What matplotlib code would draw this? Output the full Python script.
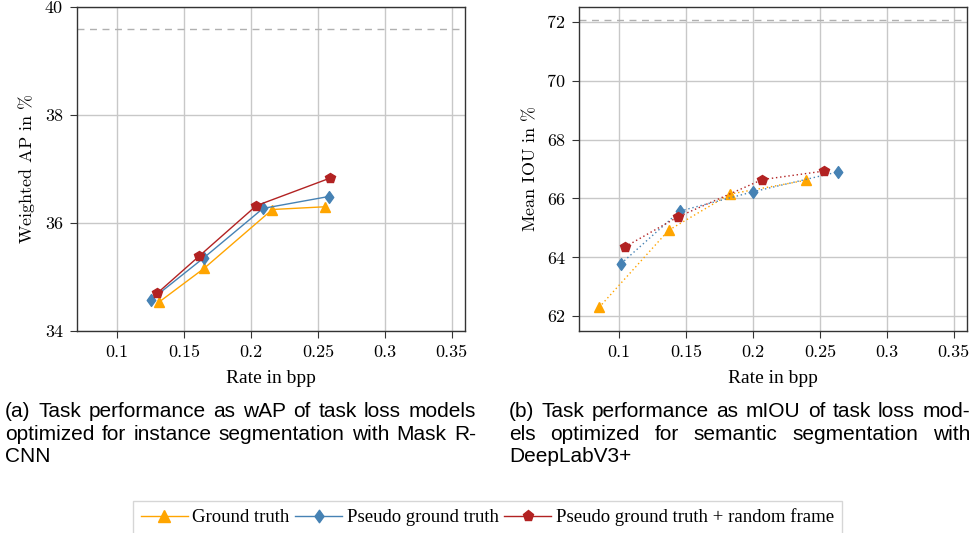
import matplotlib.pyplot as plt
from matplotlib.lines import Line2D
from matplotlib.path import Path

W, H = 979, 533

# (a) instance segmentation, weighted AP
rate_gt_a = [0.131, 0.165, 0.216, 0.255]
wap_gt = [34.53, 35.16, 36.25, 36.30]
rate_pgt_a = [0.125, 0.165, 0.209, 0.258]
wap_pgt = [34.57, 35.36, 36.27, 36.49]
rate_rf_a = [0.130, 0.161, 0.204, 0.259]
wap_rf = [34.70, 35.38, 36.32, 36.83]
wap_ref = 39.6

# (b) semantic segmentation, mean IOU
rate_gt_b = [0.085, 0.137, 0.183, 0.240]
miou_gt = [62.3, 64.92, 66.15, 66.62]
rate_pgt_b = [0.1015, 0.1453, 0.2004, 0.2634]
miou_pgt = [63.79, 65.57, 66.23, 66.90]
rate_rf_b = [0.1045, 0.1438, 0.2069, 0.2532]
miou_rf = [64.36, 65.37, 66.64, 66.93]
miou_ref = 72.05

xticks = [0.1, 0.15, 0.2, 0.25, 0.3, 0.35]
xticklabels = ["0.1", "0.15", "0.2", "0.25", "0.3", "0.35"]

labels = ["Ground truth", "Pseudo ground truth", "Pseudo ground truth + random frame"]
colors = ["#FFA500", "#4682B4", "#B22222"]
diamond = Path([(0, 1), (0.72, 0), (0, -1), (-0.72, 0), (0, 1)],
               [Path.MOVETO, Path.LINETO, Path.LINETO, Path.LINETO, Path.CLOSEPOLY])
markers = ["^", diamond, "p"]
msizes = [7.5, 8.5, 7.5]

plt.rcParams["mathtext.fontset"] = "cm"
plt.rcParams["axes.unicode_minus"] = False

fig = plt.figure(figsize=(W / 100, H / 100), dpi=100)


def px_axes(x0, y0, x1, y1):
    return fig.add_axes([x0 / W, 1 - y1 / H, (x1 - x0) / W, (y1 - y0) / H])


def style(ax, ylabel, ylim, yticks, ref):
    ax.set_xlim(0.07, 0.36)
    ax.set_ylim(*ylim)
    ax.set_xticks(xticks)
    ax.set_xticklabels(xticklabels, fontfamily="cmr10", fontsize=13)
    ax.set_yticks(yticks)
    ax.set_yticklabels([str(v) for v in yticks], fontfamily="cmr10", fontsize=13)
    ax.grid(True, color="#c8c8c8", linewidth=1)
    ax.set_axisbelow(True)
    for s in ax.spines.values():
        s.set_color("#333333")
        s.set_linewidth(1)
    ax.tick_params(direction="out", length=5, width=0.8, color="#333333", pad=5)
    ax.axhline(ref, color="#b0b0b0", linestyle=(0, (5, 4)), linewidth=1)
    ax.set_xlabel("Rate in bpp", fontfamily="Liberation Serif", fontsize=14, labelpad=7)
    ax.set_ylabel(ylabel, fontfamily="cmr10", fontsize=13, labelpad=6)


ax1 = px_axes(77, 7, 465, 331)
series_a = [(rate_gt_a, wap_gt), (rate_pgt_a, wap_pgt), (rate_rf_a, wap_rf)]
for (x, y), c, m, ms in zip(series_a, colors, markers, msizes):
    ax1.plot(x, y, color=c, marker=m, markersize=ms, linewidth=1, zorder=3)
style(ax1, r"Weighted AP in $\%$", (34, 40), [34, 36, 38, 40], wap_ref)

ax2 = px_axes(579, 7, 967, 331)
series_b = [(rate_gt_b, miou_gt), (rate_pgt_b, miou_pgt), (rate_rf_b, miou_rf)]
for (x, y), c, m, ms in zip(series_b, colors, markers, msizes):
    ax2.plot(x, y, color=c, marker=m, markersize=ms, linewidth=1,
             linestyle=(0, (1, 2)), zorder=3)
style(ax2, r"Mean IOU in $\%$", (61.5, 72.5), [62, 64, 66, 68, 70, 72], miou_ref)

# captions, justified like the paper
renderer = fig.canvas.get_renderer()
cap_kw = dict(fontfamily="Liberation Sans", fontsize=15, va="baseline")


def caption(lines, x0, x1, y0, dy):
    for i, line in enumerate(lines):
        y = 1 - (y0 + i * dy) / H
        words = line.split()
        if i == len(lines) - 1 or len(words) == 1:
            fig.text(x0 / W, y, line, **cap_kw)
            continue
        texts = [fig.text(0, y, w, **cap_kw) for w in words]
        widths = [t.get_window_extent(renderer).width for t in texts]
        gap = (x1 - x0 - sum(widths)) / (len(words) - 1)
        x = x0
        for t, w in zip(texts, widths):
            t.set_x(x / W)
            x += w + gap


caption(["(a) Task performance as wAP of task loss models",
         "optimized for instance segmentation with Mask R-",
         "CNN"], 5, 476, 417, 22.5)
caption(["(b) Task performance as mIOU of task loss mod-",
         "els optimized for semantic segmentation with",
         "DeepLabV3+"], 509, 970, 417, 22.5)

handles = [Line2D([], [], color=c, marker=m, markersize=ms + 0.5, linewidth=1)
           for c, m, ms in zip(colors, markers, msizes)]
leg = fig.legend(handles, labels, ncol=3, loc="upper center",
                 bbox_to_anchor=(487.5 / W, 1 - 501 / H),
                 prop={"family": "Liberation Serif", "size": 13.5},
                 frameon=True, fancybox=False, edgecolor="#cccccc",
                 handlelength=2.5, handletextpad=0.25, columnspacing=0.3,
                 borderpad=0.4, borderaxespad=0)
leg.get_frame().set_linewidth(1)

fig.savefig("out.png", dpi=100)
